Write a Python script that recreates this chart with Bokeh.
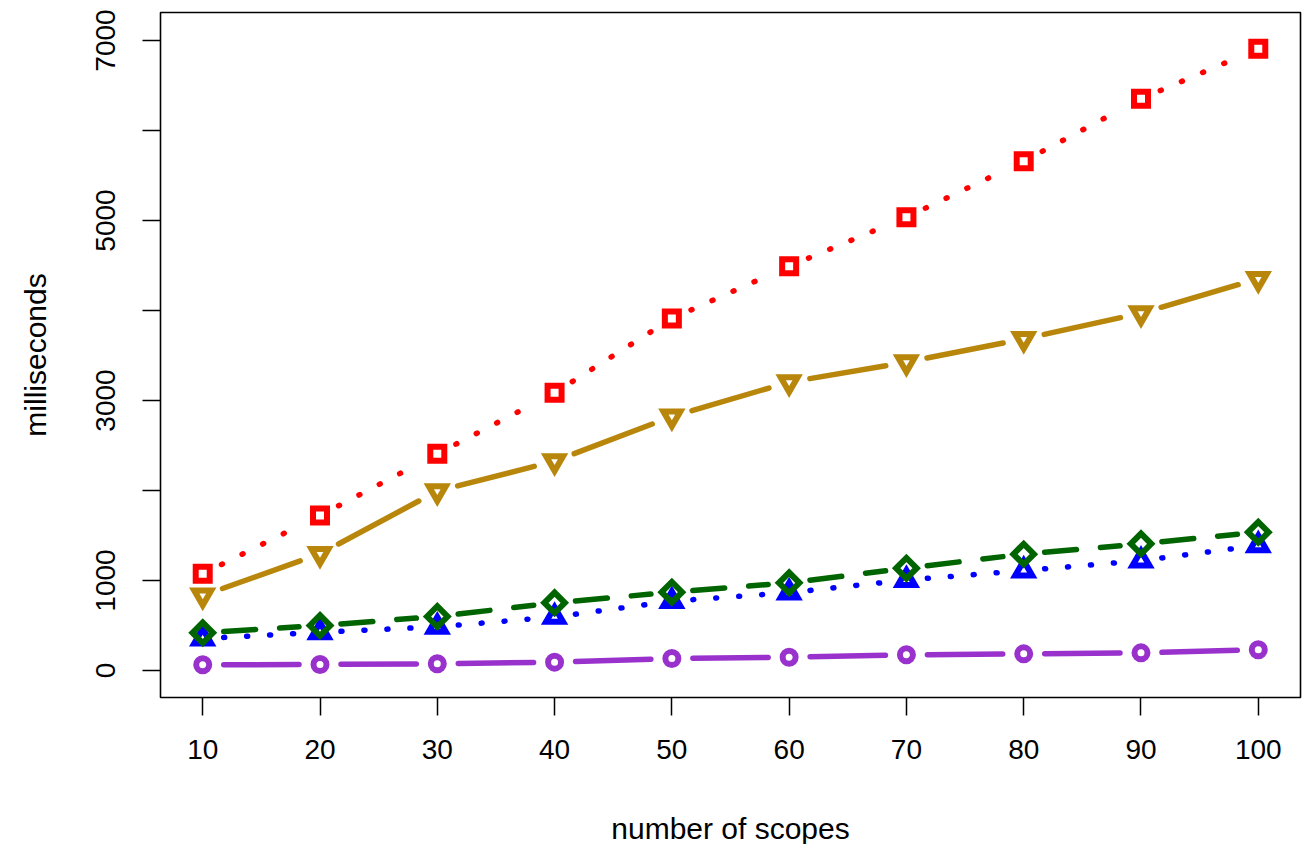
import numpy as np
from bokeh.plotting import figure
from bokeh.models import FixedTicker, Range1d
from bokeh.embed import file_html
from bokeh.resources import INLINE

# ---- data ----
scopes = [10, 20, 30, 40, 50, 60, 70, 80, 90, 100]
red_squares = [1074, 1722, 2407, 3085, 3911, 4492, 5037, 5659, 6352, 6908]
gold_triangles = [833, 1296, 1993, 2326, 2822, 3204, 3426, 3685, 3970, 4352]
green_diamonds = [419, 500, 600, 752, 870, 974, 1137, 1293, 1407, 1537]
blue_triangles = [355, 425, 485, 595, 770, 865, 1005, 1110, 1220, 1390]
purple_circles = [63, 67, 74, 93, 133, 148, 174, 185, 196, 230]

x_ticks = [10, 20, 30, 40, 50, 60, 70, 80, 90, 100]
y_ticks = [0, 1000, 2000, 3000, 4000, 5000, 6000, 7000]
y_hidden = {2000: "", 4000: "", 6000: ""}

X0, X1 = 6.4, 103.6
Y0, Y1 = -300, 7311
FW, FH = 1140, 685
FONT = "Liberation Sans"

p = figure(frame_width=FW, frame_height=FH,
           x_range=Range1d(X0, X1), y_range=Range1d(Y0, Y1),
           output_backend="svg", toolbar_location=None,
           min_border_left=160, min_border_right=5,
           min_border_top=12, min_border_bottom=130)
p.background_fill_color = "white"
p.border_fill_color = "white"
p.xgrid.visible = False
p.ygrid.visible = False
p.outline_line_color = "black"
p.outline_line_width = 1.6

for ax in (p.xaxis[0], p.yaxis[0]):
    ax.axis_line_color = None
    ax.major_tick_line_color = "black"
    ax.major_tick_line_width = 1.5
    ax.major_tick_out = 18
    ax.major_tick_in = 0
    ax.minor_tick_line_color = None
    ax.major_label_text_font = FONT
    ax.major_label_text_font_size = "28px"
    ax.major_label_text_color = "black"
    ax.axis_label_text_font = FONT
    ax.axis_label_text_font_size = "30px"
    ax.axis_label_text_font_style = "normal"
    ax.axis_label_text_color = "black"

p.xaxis.ticker = FixedTicker(ticks=x_ticks)
p.yaxis.ticker = FixedTicker(ticks=y_ticks)
p.yaxis.major_label_overrides = y_hidden
p.yaxis.major_label_orientation = "vertical"
p.xaxis.axis_label = "number of scopes"
p.yaxis.axis_label = "milliseconds"
p.xaxis.major_label_standoff = 24
p.yaxis.major_label_standoff = 27
p.xaxis.axis_label_standoff = 50
p.yaxis.axis_label_standoff = 42

sx = FW / (X1 - X0)
sy = FH / (Y1 - Y0)


def gapped(xs, ys, gap=21):
    segx, segy = [], []
    for i in range(len(xs) - 1):
        ddx = xs[i + 1] - xs[i]
        ddy = ys[i + 1] - ys[i]
        L = np.hypot(ddx * sx, ddy * sy)
        if L <= 2 * gap:
            continue
        f = gap / L
        segx.append([xs[i] + ddx * f, xs[i + 1] - ddx * f])
        segy.append([ys[i] + ddy * f, ys[i + 1] - ddy * f])
    return segx, segy


series = [
    (red_squares, "#FF0000", "1 22", "square", 14, 0.0),
    (gold_triangles, "#B8860B", "solid", "inverted_triangle", 17, 0.0),
    (blue_triangles, "#0000FF", "1 22", "triangle", 17, 0.0),
    (green_diamonds, "#006400", "32 24", "square", 14.5, np.pi / 4),
    (purple_circles, "#9932CC", "solid", "circle", 13, 0.0),
]

for ys, col, dash, mk, sz, ang in series:
    gx, gy = gapped(scopes, ys)
    p.multi_line(gx, gy, line_color=col, line_width=5.5, line_dash=dash,
                 line_cap="round")
    p.scatter(scopes, ys, marker=mk, size=sz, angle=ang, fill_color=None,
              line_color=col, line_width=6, line_join="miter")

open("out.html", "w").write(file_html(p, INLINE))
